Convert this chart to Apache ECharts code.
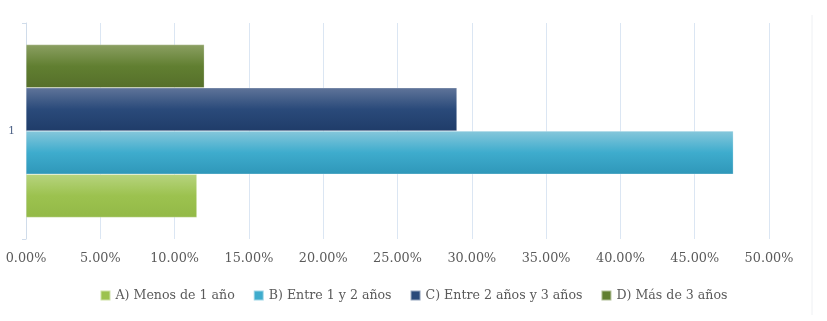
<!DOCTYPE html>
<html><head><meta charset="utf-8">
<script src="https://cdn.jsdelivr.net/npm/echarts@6/dist/echarts.min.js"></script>
<style>html,body{margin:0;padding:0;background:#fff}#c{width:827px;height:321px}</style>
</head><body><div id="c"></div>
<script>
const categories = ['1'];
const seriesNames = ['A) Menos de 1 año', 'B) Entre 1 y 2 años', 'C) Entre 2 años y 3 años', 'D) Más de 3 años'];
const valuesA = [11.5];
const valuesB = [47.6];
const valuesC = [29.0];
const valuesD = [12.0];
const tickValues = [0, 5, 10, 15, 20, 25, 30, 35, 40, 45, 50];

const grads = [
  ['#b7d47f', '#9cc24f', '#93b947'],
  ['#86c7db', '#3eaccd', '#2f97b9'],
  ['#5f7499', '#2a4a7a', '#1f3c69'],
  ['#8b9f62', '#617f31', '#566f2a']
];
const legendColors = ['#9cc24f', '#3eaccd', '#2a4a7a', '#617f31'];
function grad(g){
  return new echarts.graphic.LinearGradient(0,0,0,1,[{offset:0,color:g[0]},{offset:0.5,color:g[1]},{offset:1,color:g[2]}]);
}
const data = [valuesA, valuesB, valuesC, valuesD];
const font = '"DejaVu Serif", "Liberation Serif", serif';
const chart = echarts.init(document.getElementById('c'));
// series drawn top-to-bottom D, C, B, A (first series sits at the top)
const order = [3, 2, 1, 0];
chart.setOption({
  animation: false,
  grid: {left: 26, right: 58, top: 23, bottom: 82, containLabel: false},
  xAxis: {
    type: 'value', min: tickValues[0], max: tickValues[tickValues.length-1], interval: 5,
    axisLine: {show: false}, axisTick: {show: false},
    splitLine: {lineStyle: {color: '#dbe6f3', width: 1}},
    axisLabel: {color: '#5a5a5a', fontFamily: font, fontSize: 12.8, margin: 13,
      formatter: v => v.toFixed(2) + '%'}
  },
  yAxis: {
    type: 'category', data: categories,
    axisLine: {lineStyle: {color: '#d0dcea'}},
    axisTick: {show: true, length: 4, lineStyle: {color: '#d0dcea'}},
    axisLabel: {color: '#4a5f85', fontFamily: font, fontSize: 10.5, margin: 11}
  },
  legend: {
    bottom: 14, left: 'center', itemWidth: 10, itemHeight: 10, itemGap: 18,
    icon: 'rect',
    textStyle: {color: '#5a5a5a', fontFamily: font, fontSize: 12.6},
    data: seriesNames.map((n,i)=>({name:n, itemStyle:{color:legendColors[i]}}))
  },
  series: order.map(i=>({
    name: seriesNames[i], type: 'bar', data: data[i],
    barCategoryGap: '20%', barGap: '0%',
    itemStyle: {color: grad(grads[i]), borderColor: 'rgba(255,255,255,0.5)', borderWidth: 0.5}
  })),
  graphic: [{type:'line', shape:{x1:812,y1:15,x2:812,y2:315}, style:{stroke:'#eef0f3', lineWidth:1}}]
});
</script></body></html>
